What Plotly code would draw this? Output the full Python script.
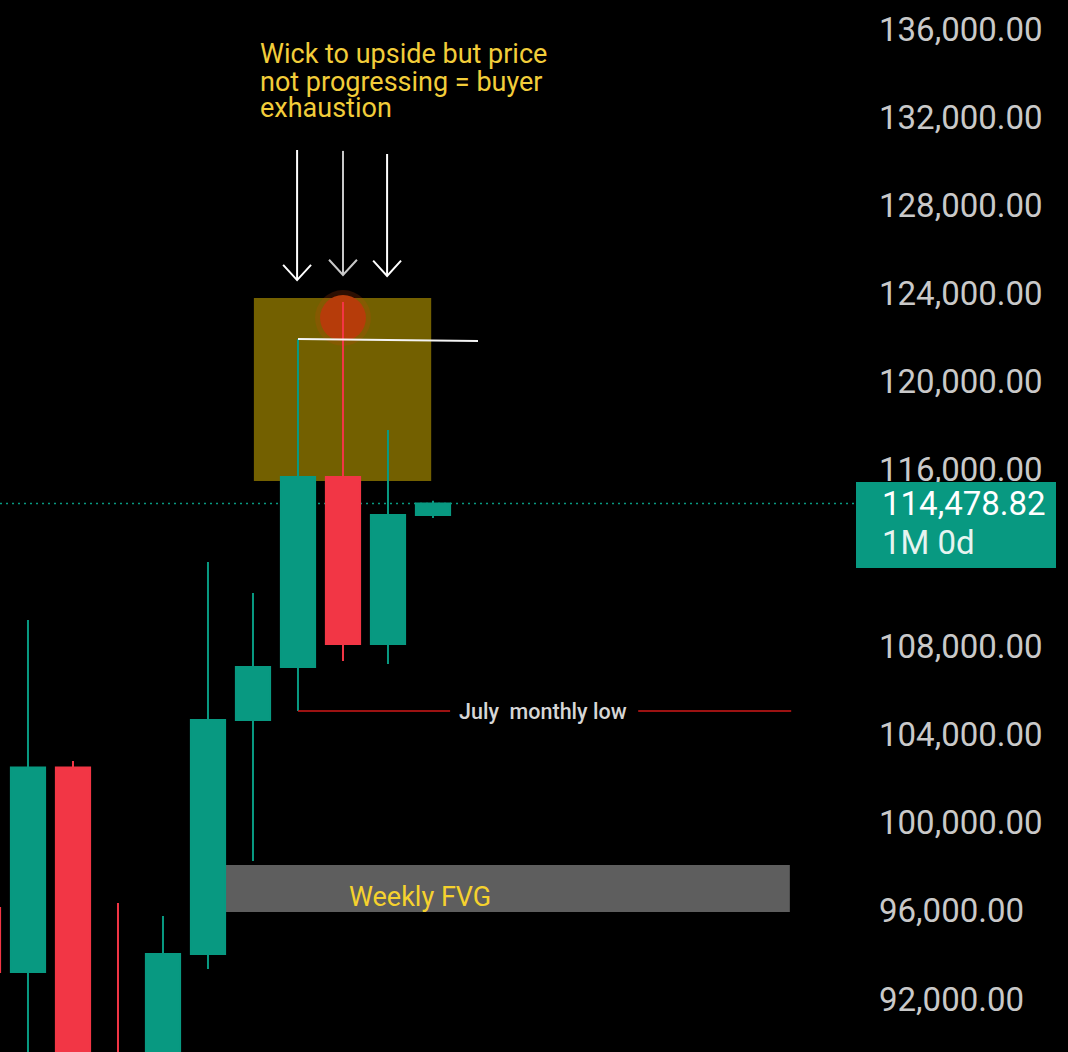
import plotly.graph_objects as go

# ---------------- data ----------------
months = ["Dec 2024", "Jan 2025", "Feb 2025", "Mar 2025", "Apr 2025", "May 2025",
          "Jun 2025", "Jul 2025", "Aug 2025", "Sep 2025", "Oct 2025"]
opens = [96130, 93220, 102500, 84350, 82550, 94040, 104650, 107060, 115680, 108100, 113950]
highs = [108300, 109190, 102790, 96350, 95760, 111820, 110420, 121940, 123620, 117810, 114600]
lows = [91300, 89200, 78200, 76600, 74400, 93360, 98260, 105060, 107330, 107200, 113820]
closes = [93220, 102500, 84350, 82550, 94040, 104650, 107060, 115680, 108100, 113950, 114478.82]

# 112,000 sits behind the price badge in the reference, so it is not labelled
tick_vals = [92000, 96000, 100000, 104000, 108000, 116000,
             120000, 124000, 128000, 132000, 136000]

last_price = closes[-1]
july_low = lows[7]
fvg_low, fvg_high = 95940, 98080
zone_low, zone_high = 115500, 123800

note_lines = ["Wick to upside but price", "not progressing = buyer", "exhaustion"]

GREEN = "#089981"
RED = "#F23645"
x = list(range(len(months)))

# ---------------- figure ----------------
fig = go.Figure()
fig.add_trace(go.Candlestick(
    x=x, open=opens, high=highs, low=lows, close=closes,
    increasing=dict(line=dict(color=GREEN, width=2), fillcolor=GREEN),
    decreasing=dict(line=dict(color=RED, width=2), fillcolor=RED),
    whiskerwidth=0, hoverinfo="skip", showlegend=False,
))

shapes = []
# olive highlight zone (below candles)
shapes.append(dict(type="rect", xref="x", yref="y", x0=6.02, x1=9.96,
                   y0=zone_low, y1=zone_high, fillcolor="#736000",
                   line=dict(width=0), layer="below"))
# red glow circle at the wick top
shapes.append(dict(type="circle", xref="x", yref="y", x0=8 - 0.62, x1=8 + 0.62,
                   y0=122890 - 1270, y1=122890 + 1270,
                   fillcolor="rgba(200,70,10,0.22)", line=dict(width=0), layer="below"))
shapes.append(dict(type="circle", xref="x", yref="y", x0=8 - 0.51, x1=8 + 0.51,
                   y0=122890 - 1043, y1=122890 + 1043,
                   fillcolor="#b63c0a", line=dict(width=0), layer="below"))
# weekly FVG gray box
shapes.append(dict(type="rect", xref="x", yref="y", x0=5.4, x1=17.93,
                   y0=fvg_low, y1=fvg_high, fillcolor="#5e5e5e",
                   line=dict(width=0), layer="below"))
# July monthly low red line (two segments around label)
shapes.append(dict(type="line", xref="x", yref="y", x0=7, x1=10.38, y0=july_low, y1=july_low,
                   line=dict(color="#d01818", width=1.6), layer="above"))
shapes.append(dict(type="line", xref="x", yref="y", x0=14.56, x1=17.96, y0=july_low, y1=july_low,
                   line=dict(color="#d01818", width=1.6), layer="above"))
# white line near July high
shapes.append(dict(type="line", xref="x", yref="y", x0=7, x1=11, y0=121940, y1=121850,
                   line=dict(color="#f4f4f4", width=2), layer="above"))
# dotted last-price line
shapes.append(dict(type="line", xref="paper", yref="y", x0=0, x1=1, y0=last_price, y1=last_price,
                   line=dict(color=GREEN, width=1.5, dash="2px,4px"), layer="below"))

# three down arrows
arrows = [(6.98, 130510, 124610, "#ffffff"),
          (8.0, 130470, 124840, "#c8c8c8"),
          (8.98, 130330, 124800, "#ffffff")]
hw, hh = 0.31, 690
for ax_, ytop, ytip, col in arrows:
    shapes.append(dict(type="line", xref="x", yref="y", x0=ax_, x1=ax_, y0=ytop, y1=ytip,
                       line=dict(color=col, width=2), layer="above"))
    shapes.append(dict(type="path", xref="x", yref="y",
                       path=f"M {ax_-hw},{ytip+hh} L {ax_},{ytip} L {ax_+hw},{ytip+hh}",
                       line=dict(color=col, width=2), layer="above"))

annotations = []
note_y = [134870, 133600, 132420]
for line, yv in zip(note_lines, note_y):
    annotations.append(dict(x=6.11, y=yv, xref="x", yref="y", text=line, showarrow=False,
                            xanchor="left", yanchor="middle",
                            font=dict(family="Roboto", size=27, color="#f2cd3a")))
annotations.append(dict(x=12.44, y=july_low, xref="x", yref="y", text="July\u00a0 monthly low",
                        showarrow=False, xanchor="center", yanchor="middle",
                        font=dict(family="Roboto", size=21.5, color="#d6d6d6", weight=500)))
annotations.append(dict(x=9.71, y=96620, xref="x", yref="y", text="Weekly FVG",
                        showarrow=False, xanchor="center", yanchor="middle",
                        font=dict(family="Roboto", size=27, color="#f5d22e")))
# price badge
annotations.append(dict(x=856 / 868, y=1 - 525 / 1052, xref="paper", yref="paper",
                        text=" ", showarrow=False, xanchor="left", yanchor="middle",
                        width=200, height=86, bgcolor=GREEN, borderpad=0, borderwidth=0,
                        font=dict(family="Roboto", size=10, color=GREEN)))
annotations.append(dict(x=880 / 868, y=last_price, xref="paper", yref="y",
                        text=f"{last_price:,.2f}", showarrow=False,
                        xanchor="left", yanchor="middle",
                        font=dict(family="Roboto", size=33, color="#ffffff")))
annotations.append(dict(x=880 / 868, y=1 - 542 / 1052, xref="paper", yref="paper",
                        text="1M 0d", showarrow=False, xanchor="left", yanchor="middle",
                        font=dict(family="Roboto", size=33, color="#e6f4f0")))

fig.update_layout(
    width=1068, height=1052,
    margin=dict(l=0, r=200, t=0, b=0),
    paper_bgcolor="#000000", plot_bgcolor="#000000",
    showlegend=False, hovermode=False,
    boxgap=0.24, boxgroupgap=0,
    shapes=shapes, annotations=annotations,
    xaxis=dict(visible=False, range=[0.378, 19.667], rangeslider=dict(visible=False),
               showgrid=False, zeroline=False),
    yaxis=dict(side="right", range=[89595, 137315], tickvals=tick_vals,
               tickformat=",.2f", showgrid=False, zeroline=False, showline=False,
               ticks="", ticklabelstandoff=10,
               tickfont=dict(family="Roboto", size=33, color="#c9c9c9")),
)

fig.write_html("out.html", config={"displayModeBar": False},
               post_script="document.body.style.margin='0';document.body.style.background='#000';")
